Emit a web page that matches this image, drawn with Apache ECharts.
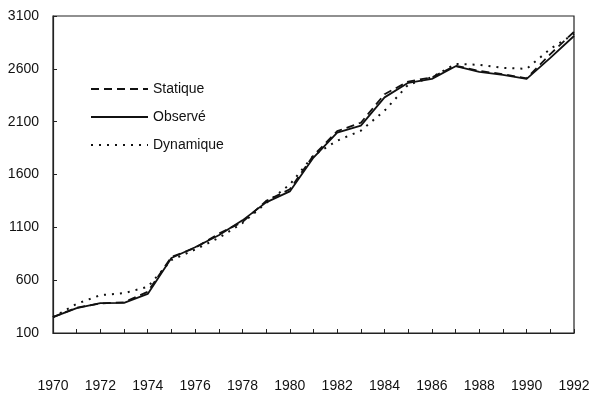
<!DOCTYPE html>
<html lang="fr">
<head>
    <meta charset="UTF-8">
    <title>Statique / Observé / Dynamique</title>
    <script src="https://cdn.jsdelivr.net/npm/echarts@6/dist/echarts.min.js"></script>
</head>
<style type="text/css">
    body{
        margin:0;
        background:#fff;
    }
    #chart{
        width: 601px;
        height: 405px;
    }
</style>
<body>
    <div id="chart"></div>
<script type="text/javascript">
var years = [1970, 1971, 1972, 1973, 1974, 1975, 1976, 1977, 1978, 1979, 1980,
             1981, 1982, 1983, 1984, 1985, 1986, 1987, 1988, 1989, 1990, 1991, 1992];

var observe = [250, 336, 383, 385, 470, 810, 911, 1025, 1166, 1336, 1440,
               1760, 1996, 2062, 2330, 2468, 2505, 2625, 2572, 2543, 2505, 2704, 2911];

var statique = [250, 340, 380, 390, 490, 820, 905, 1040, 1150, 1350, 1460,
                1780, 2010, 2090, 2360, 2480, 2520, 2630, 2580, 2550, 2510, 2740, 2950];

var dynamique = [250, 376, 458, 477, 537, 790, 890, 1000, 1140, 1330, 1505,
                 1780, 1920, 2015, 2204, 2450, 2520, 2647, 2638, 2609, 2600, 2789, 2930];

var yTicks = [100, 600, 1100, 1600, 2100, 2600, 3100];

function pairs(vals) {
    return vals.map(function(v, i) {
        return [years[i], v];
    });
}

var font = 'Liberation Sans, Arial, sans-serif';

var option = {
    animation: false,
    backgroundColor: '#fff',
    grid: {
        left: 53,
        right: 27,
        top: 16,
        bottom: 72,
        show: true,
        borderColor: '#222',
        borderWidth: 1.2
    },
    legend: {
        orient: 'vertical',
        left: 85,
        top: 77,
        itemWidth: 57,
        itemHeight: 14,
        itemGap: 14,
        itemStyle: { opacity: 0 },
        textStyle: { fontFamily: font, fontSize: 14, color: '#111' },
        data: ['Statique', 'Observé', 'Dynamique']
    },
    xAxis: {
        type: 'value',
        min: 1970,
        max: 1992,
        interval: 1,
        axisLine: { lineStyle: { color: '#222', width: 1.2 } },
        axisTick: { inside: true, length: 4, lineStyle: { color: '#222' } },
        splitLine: { show: false },
        axisLabel: {
            margin: 46,
            fontFamily: font,
            fontSize: 14,
            color: '#111',
            formatter: function(v) {
                return v % 2 === 0 ? String(v) : '';
            }
        }
    },
    yAxis: {
        type: 'value',
        min: yTicks[0],
        max: yTicks[yTicks.length - 1],
        interval: 500,
        axisLine: { show: true, lineStyle: { color: '#222', width: 1.2 } },
        axisTick: { show: true, inside: true, length: 4, lineStyle: { color: '#222' } },
        splitLine: { show: false },
        axisLabel: {
            margin: 14,
            fontFamily: font,
            fontSize: 14,
            color: '#111',
            formatter: function(v) {
                return String(v);
            }
        }
    },
    series: [
        {
            name: 'Statique',
            type: 'line',
            data: pairs(statique),
            symbol: 'none',
            lineStyle: { color: '#111', width: 1.8, type: [8, 5] },
            itemStyle: { color: '#111' }
        },
        {
            name: 'Observé',
            type: 'line',
            data: pairs(observe),
            symbol: 'none',
            lineStyle: { color: '#111', width: 1.8, type: 'solid' },
            itemStyle: { color: '#111' }
        },
        {
            name: 'Dynamique',
            type: 'line',
            data: pairs(dynamique),
            symbol: 'none',
            lineStyle: { color: '#111', width: 2, type: [2, 6] },
            itemStyle: { color: '#111' }
        }
    ]
};

var myChart = echarts.init(document.getElementById('chart'));
myChart.setOption(option);
</script>
</body>
</html>
